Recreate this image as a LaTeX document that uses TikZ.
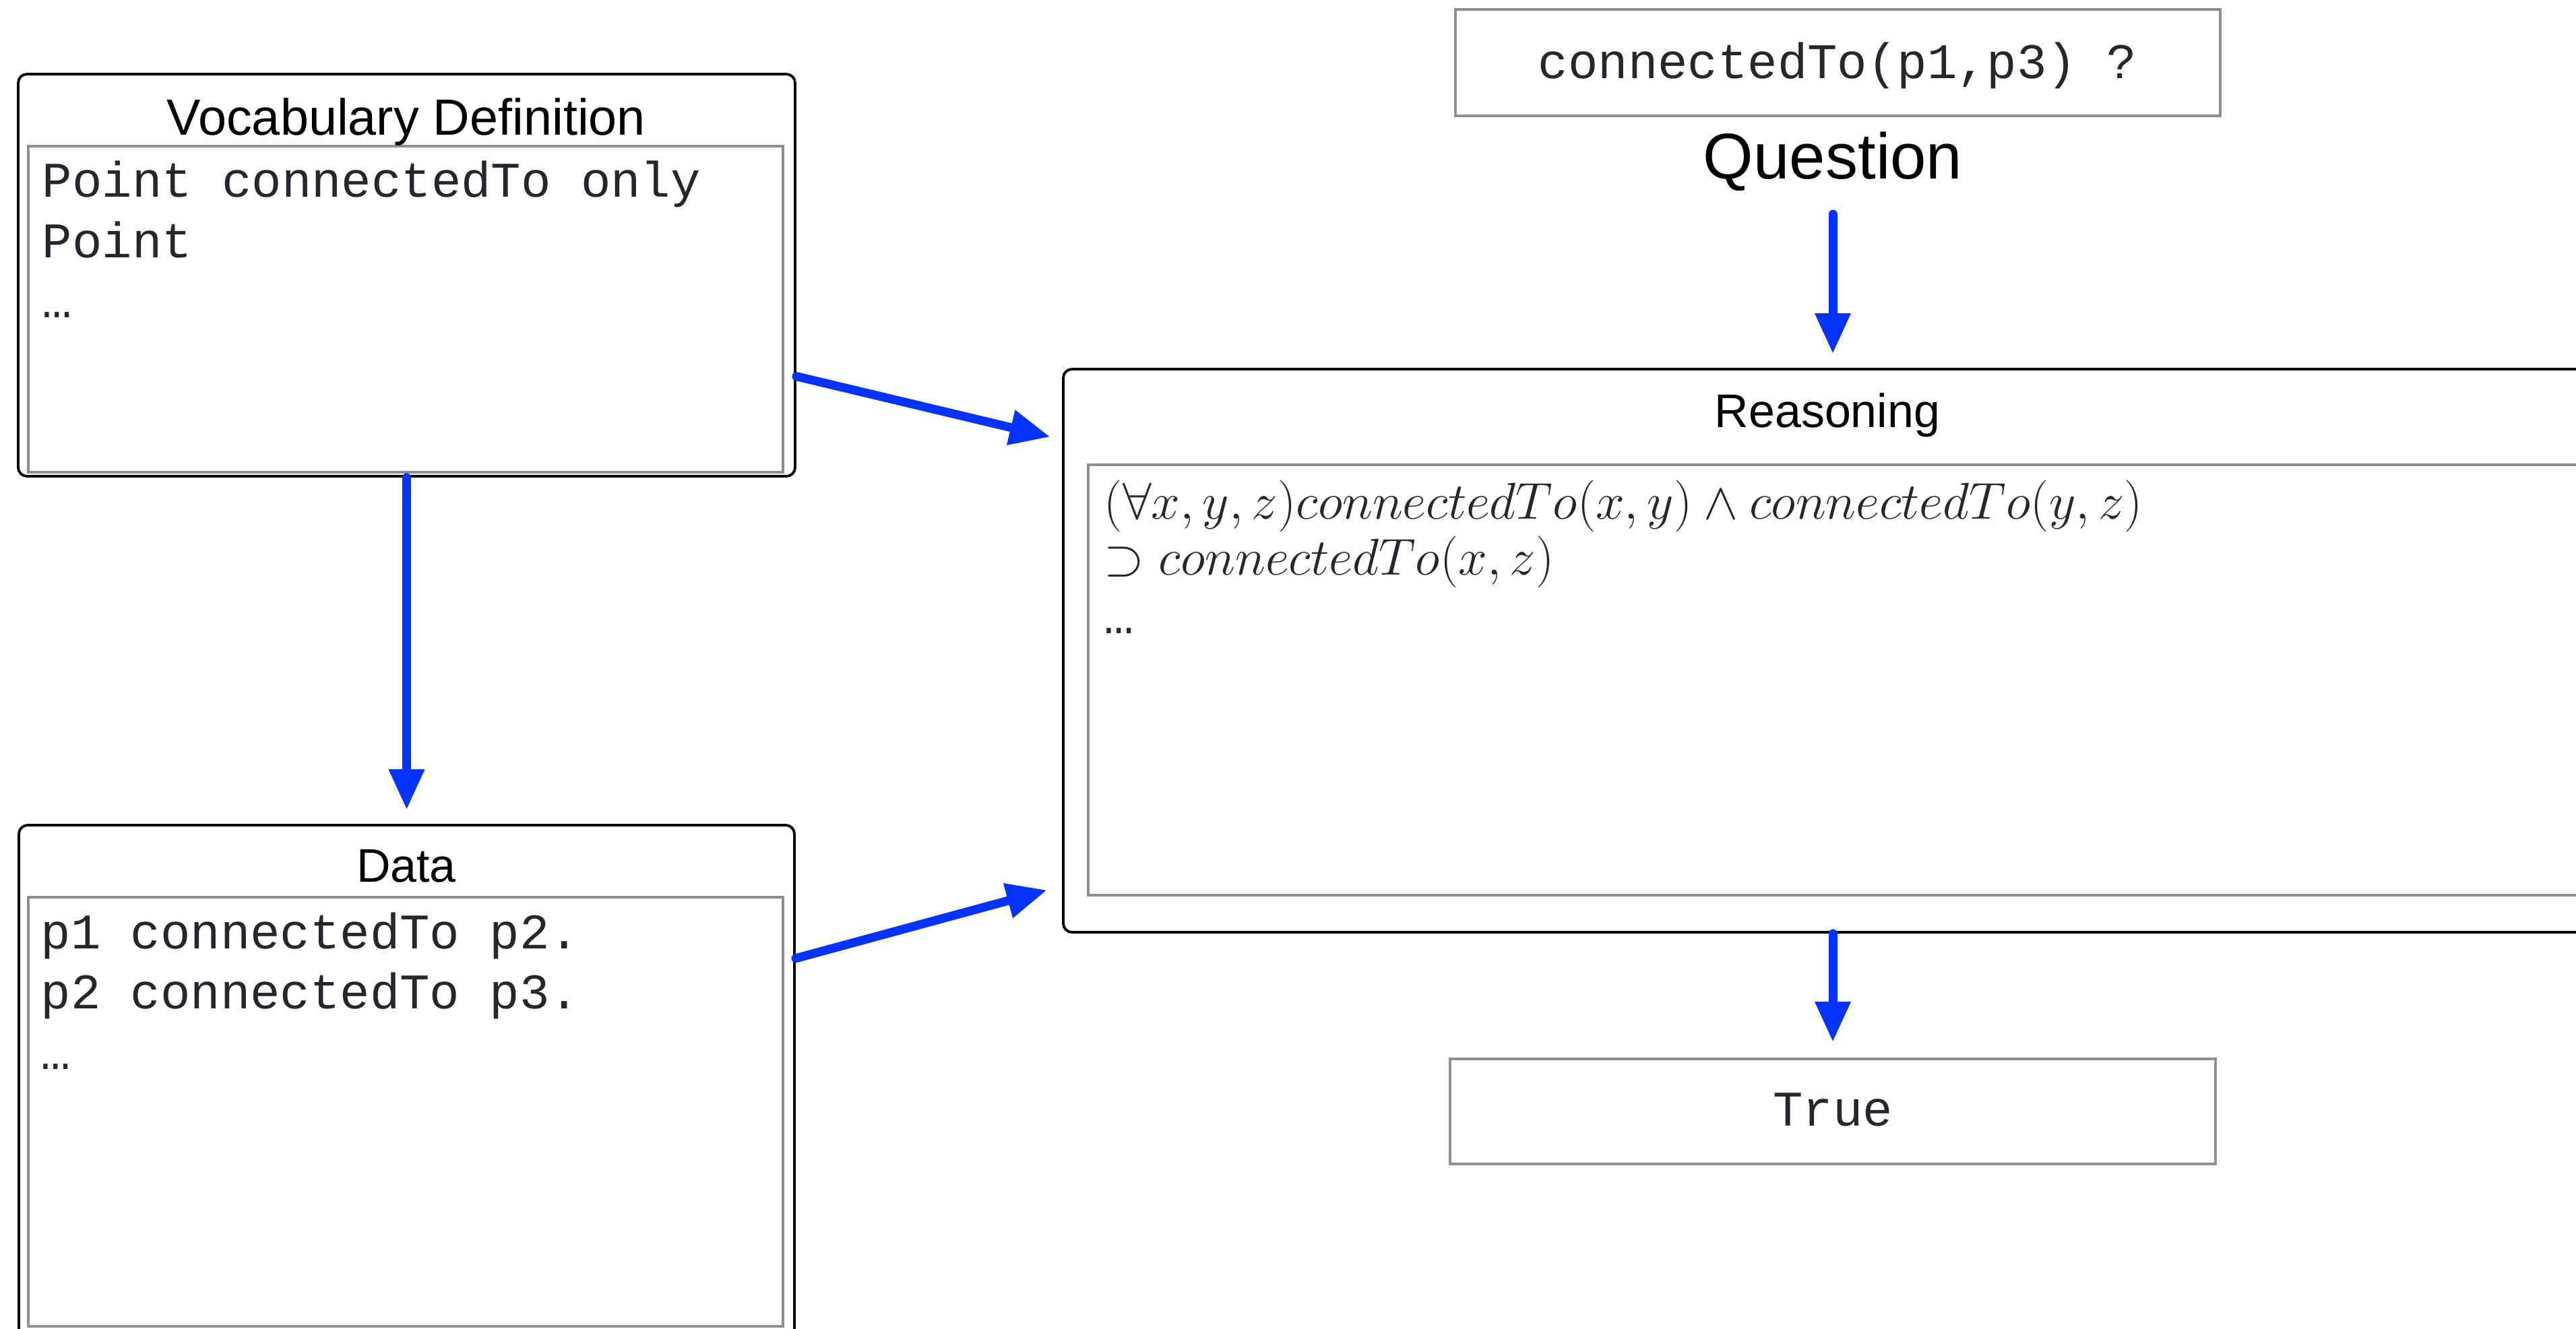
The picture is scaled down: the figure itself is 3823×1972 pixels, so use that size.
\RequirePackage{fix-cm}
\documentclass[tikz,border=0pt]{standalone}
\usepackage{fontspec}
\setmainfont{Liberation Sans}
\newfontfamily\codefont{Liberation Mono}
\usetikzlibrary{arrows.meta,calc}
\definecolor{flowblue}{HTML}{0433FF}
\definecolor{framegray}{HTML}{8E8E93}
\definecolor{inkdark}{HTML}{26262E}

\begin{document}
\begin{tikzpicture}[x=0.25pt,y=-0.25pt,
  outerbox/.style={draw=black, line width=0.95pt, rounded corners=3.25pt, inner sep=0pt},
  innerbox/.style={draw=framegray, line width=1pt, inner sep=0pt},
  titletext/.style={font=\fontsize{17.5}{21}\selectfont, anchor=base, inner sep=0pt},
  codetext/.style={font=\codefont\fontsize{18.5}{22}\selectfont, text=inkdark, anchor=base west, inner sep=0pt},
  codemid/.style={codetext, anchor=base},
  mathtext/.style={font=\fontsize{19.2}{20.75}\selectfont, text=inkdark, align=left, anchor=north west, inner sep=0pt},
  flow/.style={draw=flowblue, line width=3.25pt, line cap=round,
    -{Triangle[width=12.5pt,length=15pt]}}]

\useasboundingbox (0,0) rectangle (3823,1972);

% Vocabulary definition panel
\node[outerbox, minimum width=288.25pt, minimum height=149.25pt] (vocab) at (603.5,408.5) {};
\node[innerbox, minimum width=280pt, minimum height=121pt] (vocabin) at (602,459) {};
\node[titletext, font=\fontsize{18.9}{22}\selectfont] (vocabtitle) at (603,200) {Vocabulary Definition};
\node[codetext] (v1) at (62,292) {Point connectedTo only};
\node[codetext] (v2) at (62,382) {Point};
\node[codetext] (v3) at (62,471) {…};

% Data panel
\node[outerbox, minimum width=287.75pt, minimum height=192.5pt] (data) at (603.5,1610) {};
\node[innerbox, minimum width=280pt, minimum height=159.25pt] (datain) at (602,1650.5) {};
\node[titletext] (datatitle) at (603,1309) {Data};
\node[codetext] (d1) at (60,1408) {p1 connectedTo p2.};
\node[codetext] (d2) at (60,1497) {p2 connectedTo p3.};
\node[codetext] (d3) at (60,1587) {…};

% Question
\node[innerbox, minimum width=283.75pt, minimum height=39.5pt] (question) at (2727.5,93) {};
\node[codemid] (qtext) at (2727,116) {connectedTo(p1,p3) ?};
\node[font=\fontsize{24}{28}\selectfont, anchor=base, inner sep=0pt] (qlabel) at (2720,265) {Question};

% Reasoning panel
\node[outerbox, minimum width=568pt, minimum height=209pt] (reason) at (2714,966) {};
\node[innerbox, minimum width=555pt, minimum height=159.75pt] (reasonin) at (2725,1009.5) {};
\node[titletext] (reasontitle) at (2712,634) {Reasoning};
\node[mathtext] (rule) at (1638,712)
  {$(\forall x,y,z)connectedTo(x,y)\land connectedTo(y,z)$\\
   $\supset connectedTo(x,z)$};
\node[codetext] (r3) at (1638,940) {…};

% Answer
\node[innerbox, minimum width=284pt, minimum height=39pt] (answer) at (2720,1650) {};
\node[codemid] (atext) at (2720,1671) {True};

% Flow between the panels
\draw[flow, shorten >=5.25pt] (vocab.south) -- (data.north);
\draw[flow, shorten >=4.5pt]
  ($(vocab.south east)!0.25!(vocab.north east)$) -- ($(reason.north west)!0.127!(reason.south west)$);
\draw[flow, shorten >=5.75pt]
  ($(data.north east)!0.258!(data.south east)$) -- ($(reason.north west)!0.916!(reason.south west)$);
\draw[flow, shorten <=8.5pt, shorten >=5.25pt] (qlabel.south) -- (qlabel.south |- reason.north);
\draw[flow, shorten >=5.75pt] (answer.north |- reason.south) -- (answer.north);

\end{tikzpicture}
\end{document}
